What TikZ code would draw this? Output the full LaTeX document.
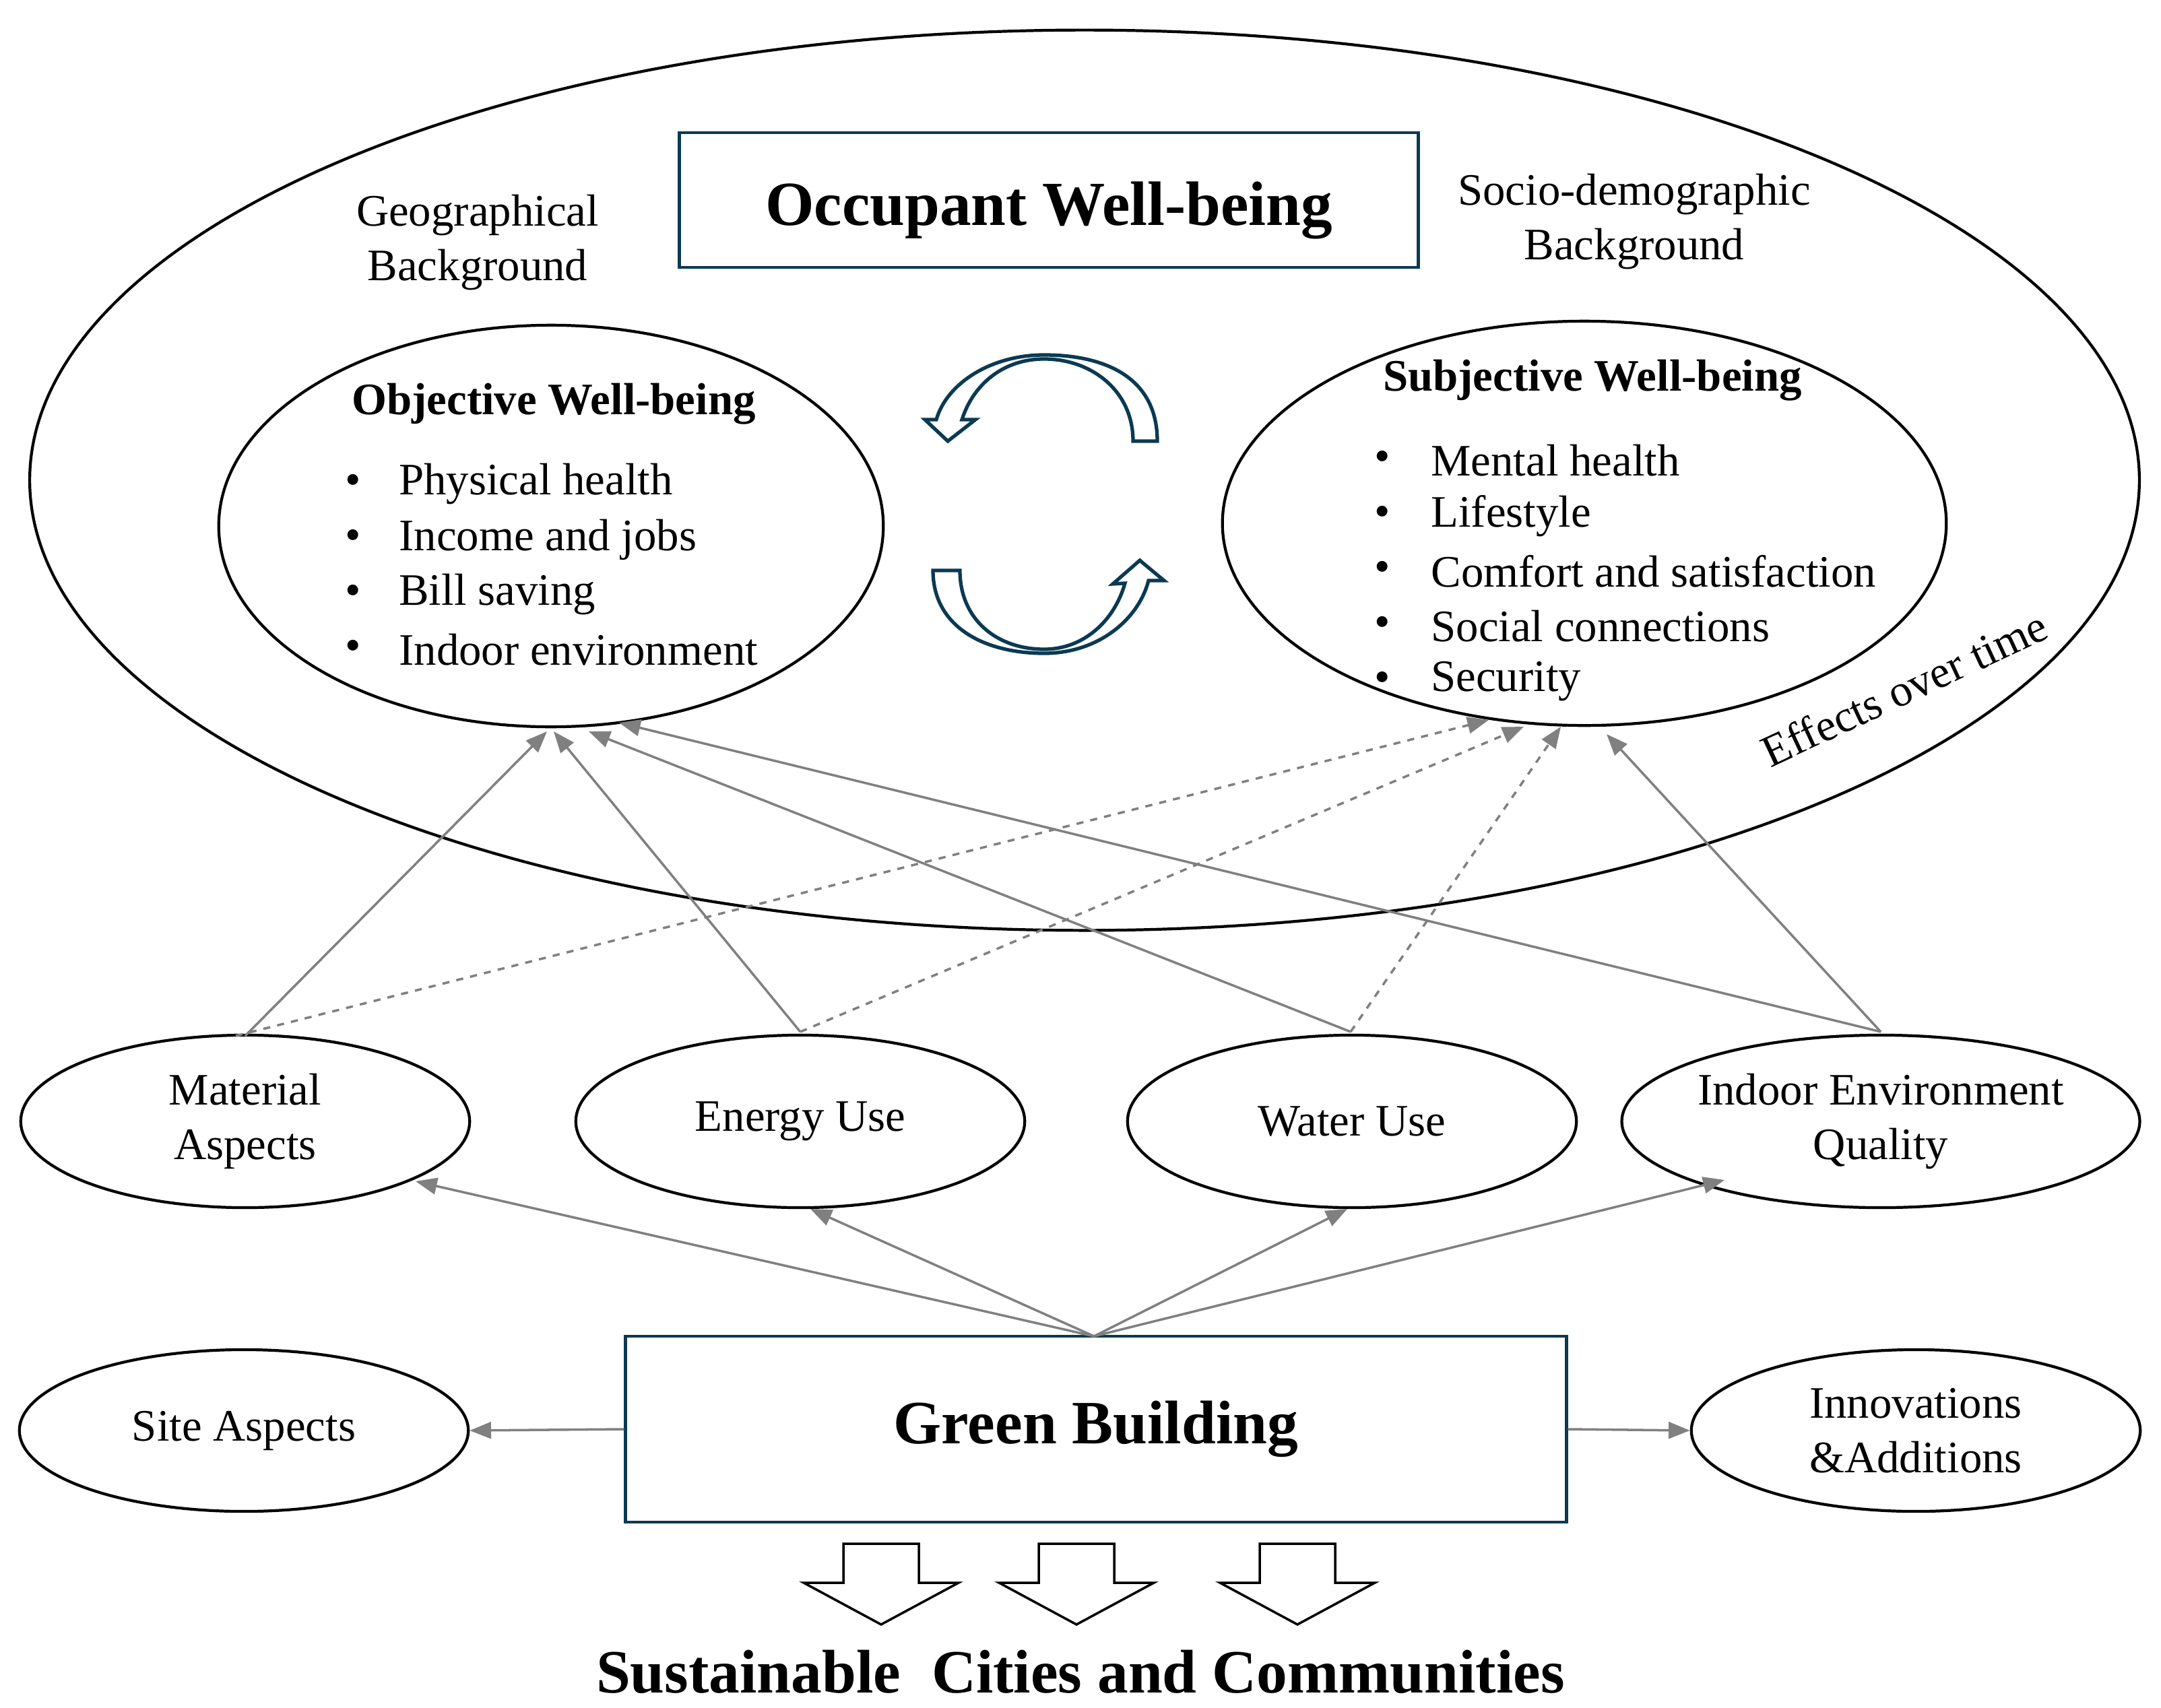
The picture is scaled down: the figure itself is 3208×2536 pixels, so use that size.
\documentclass[tikz,border=0pt]{standalone}
\usepackage{fontspec}
\setmainfont{Liberation Serif}
\usepackage{tikz}
\usetikzlibrary{arrows.meta,shapes.geometric}
\definecolor{teal}{HTML}{0B3A52}
\begin{document}
\begin{tikzpicture}
    [%%%%%%%%%%%%%%%%%%%%%%%%%%%%%%
        x=0.01cm,y=-0.01cm,
        oval/.style={ellipse,draw=black,line width=1.2pt,inner sep=0pt},
        box/.style={rectangle,draw=teal,line width=1.3pt,inner sep=0pt},
        txt/.style={font=\fontsize{19}{23}\selectfont,align=center},
        link/.style={draw=gray,line width=1pt,-{Triangle[length=9pt,width=7pt]}},
        dlink/.style={link,dashed},
        cyc/.style={draw=teal,line width=1.5pt,fill=white},
        block/.style={draw=black,line width=1pt,fill=white}
    ]%%%%%%%%%%%%%%%%%%%%%%%%%%%%%%
\useasboundingbox (0,0) rectangle (3208,2536);

% outer ellipse and title
\node[oval,minimum width=31.3cm,minimum height=13.36cm] (outer) at (1610,713) {};
\node[box,minimum width=10.96cm,minimum height=2cm] (occ) at (1557,297) {};
\node[font=\fontsize{26.5}{30}\selectfont\bfseries] (occt) at (1557,312) {Occupant Well-being};
\node[txt] (geo) at (709,360) {Geographical\\Background};
\node[txt] (soc) at (2426,329) {Socio-demographic\\Background};
\node[txt,rotate=25] (eff) at (2827,1022) {Effects over time};

% objective / subjective
\node[oval,minimum width=9.86cm,minimum height=5.96cm] (obj) at (818,781) {};
\node[oval,minimum width=10.74cm,minimum height=6cm] (subj) at (2352,777) {};
\node[txt,font=\fontsize{19}{23}\selectfont\bfseries] (objt) at (822,600) {Objective Well-being};
\node[txt,font=\fontsize{19}{23}\selectfont\bfseries] (subjt) at (2364,565) {Subjective Well-being};
\foreach \t [count=\i] in {Physical health,Income and jobs,Bill saving,Indoor environment}{
    \node[txt] (ob\i) at (524,{637+82*\i}) {\textbullet};
    \node[txt,anchor=west] at (580,{637+82*\i}) {\t};
}
\foreach \t [count=\i] in {Mental health,Lifestyle,Comfort and satisfaction,Social connections,Security}{
    \node[txt] (sb\i) at (2052,{602+82*\i}) {\textbullet};
    \node[txt,anchor=west] at (2112,{602+82*\i}) {\t};
}

% cycle arrows
\draw[cyc] (1718,655) .. controls (1718,560) and (1640,527) .. (1550,527)
    .. controls (1470,527) and (1405,570) .. (1390,623) -- (1373,623) -- (1407,655)
    -- (1448,623) -- (1428,623) .. controls (1445,570) and (1490,533) .. (1550,533)
    .. controls (1620,533) and (1682,580) .. (1682,655) -- cycle;
\draw[cyc] (1385,847) .. controls (1385,930) and (1460,970) .. (1550,970)
    .. controls (1630,970) and (1690,920) .. (1705,862) -- (1728,862) -- (1692,832)
    -- (1652,867) -- (1670,866) .. controls (1655,920) and (1610,964) .. (1550,964)
    .. controls (1480,964) and (1425,920) .. (1425,847) -- cycle;

% aspects
\node[oval,minimum width=6.66cm,minimum height=2.56cm,txt] (mat) at (364,1665) {Material\\Aspects};
\node[oval,minimum width=6.66cm,minimum height=2.56cm,txt] (ene) at (1188,1665) {Energy Use};
\node[oval,minimum width=6.66cm,minimum height=2.56cm,txt] (wat) at (2007,1665) {Water Use};
\node[oval,minimum width=6.66cm,minimum height=2.56cm,txt] (ieq) at (2792,1665) {Indoor Environment\\Quality};

\node[box,minimum width=13.96cm,minimum height=2.76cm] (gb) at (1627,2122)
    {\fontsize{26}{30}\selectfont\bfseries Green Building};
\node[oval,minimum width=6.66cm,minimum height=2.4cm,txt] (site) at (362,2124) {Site Aspects};
\node[oval,minimum width=6.66cm,minimum height=2.4cm,txt] (inno) at (2844,2124) {Innovations\\\&Additions};

% end points
\coordinate (gtop) at (1624,1984);
\coordinate (mtop) at (364,1538);
\coordinate (etop) at (1188,1532);
\coordinate (wtop) at (2005,1532);
\coordinate (itop) at (2792,1532);
\coordinate (o1) at (812,1086);
\coordinate (o2) at (822,1086);
\coordinate (o3) at (874,1086);
\coordinate (o4) at (919,1073);
\coordinate (s1) at (2210,1069);
\coordinate (s2) at (2262,1079);
\coordinate (s3) at (2317,1079);
\coordinate (s4) at (2385,1090);

\draw[link] (gtop) -- (617,1754);
\draw[link] (gtop) -- (1203,1795);
\draw[link] (gtop) -- (2000,1795);
\draw[link] (gtop) -- (2560,1752);
\draw[link] (gb.west) -- (site.east);
\draw[link] (gb.east) -- (inno.west);

\draw[link] (mtop) -- (o1);
\draw[link] (etop) -- (o2);
\draw[link] (wtop) -- (o3);
\draw[link] (itop) -- (o4);
\draw[dlink] (350,1538) -- (s1);
\draw[dlink] (etop) -- (s2);
\draw[dlink] (wtop) -- (s3);
\draw[link] (itop) -- (s4);

% block arrows
\foreach \x [count=\i] in {1308,1598,1926}{
    \draw[block] (\x-56,2292) -- (\x+56,2292) -- (\x+56,2350) -- (\x+115,2350)
        -- (\x,2412) -- (\x-115,2350) -- (\x-56,2350) -- cycle;
}
\node[font=\fontsize{26}{30}\selectfont\bfseries] (scc) at (1604,2482)
    {Sustainable\ \ Cities and Communities};
\end{tikzpicture}
\end{document}
